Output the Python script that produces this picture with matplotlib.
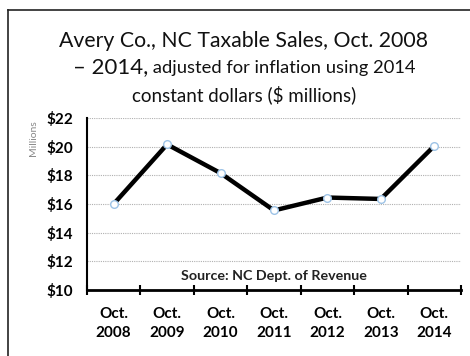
import matplotlib
matplotlib.use("Agg")
import matplotlib.pyplot as plt
from matplotlib.lines import Line2D
from matplotlib.ticker import FixedLocator, NullFormatter

plt.rcParams['font.family'] = ['Lato', 'DejaVu Sans']

# Data (millions of 2014 dollars)
categories = ["Oct.\n2008", "Oct.\n2009", "Oct.\n2010", "Oct.\n2011",
              "Oct.\n2012", "Oct.\n2013", "Oct.\n2014"]
sales = [16.0, 20.15, 18.15, 15.55, 16.45, 16.35, 20.05]
y_ticks = [10, 12, 14, 16, 18, 20, 22]
y_tick_labels = ["$10", "$12", "$14", "$16", "$18", "$20", "$22"]

fig = plt.figure(figsize=(4.70, 3.56), dpi=100)
ax = fig.add_axes([0.185, 0.185, 0.796, 0.484])

x = list(range(len(categories)))
ax.plot(x, sales, color='black', lw=3.2, solid_joinstyle='miter', zorder=3)
ax.plot(x, sales, ls='none', marker='o', ms=5.5, mfc='white', mec='#9dc3e6',
        mew=1.0, zorder=4)

ax.set_xlim(-0.5, len(categories) - 0.5)
ax.set_ylim(10, 22)
ax.set_yticks(y_ticks)
ax.set_yticklabels(y_tick_labels, fontweight='bold', fontsize=11)
ax.set_xticks(x)
ax.set_xticklabels(categories, fontweight='bold', fontsize=11, linespacing=1.5)
ax.tick_params(axis='x', which='major', length=0, pad=12)
ax.tick_params(axis='y', length=0, pad=10)
ax.xaxis.set_minor_locator(FixedLocator([i - 0.5 for i in range(len(categories) + 1)]))
ax.xaxis.set_minor_formatter(NullFormatter())
ax.tick_params(axis='x', which='minor', length=7, width=1.5, direction='inout')

ax.grid(axis='y', color='#b0b0b0', ls=(0, (1, 1)), lw=0.8)
ax.set_axisbelow(True)
for s in ('top', 'right'):
    ax.spines[s].set_visible(False)
ax.spines['left'].set_linewidth(1.5)
ax.spines['bottom'].set_linewidth(2.0)

ax.text(3.0, 10.55, "Source: NC Dept. of Revenue", ha='center', va='bottom',
        fontsize=10.3, fontweight='bold', color='#222222')

fig.text(0.071, 0.613, "Millions", rotation=90, ha='center', va='center',
         fontsize=7.5, color='#888888')

# Title, with a mixed-size second line
cx = 0.519
fig.text(cx, 1 - 47 / 356, "Avery Co., NC Taxable Sales, Oct. 2008",
         ha='center', va='baseline', fontsize=15.3, color='#111111')
fig.canvas.draw()
r = fig.canvas.get_renderer()
big = fig.text(0, 1 - 73 / 356, "– 2014,", ha='left', va='baseline',
               fontsize=16, color='#111111')
small = fig.text(0, 1 - 73 / 356, " adjusted for inflation using 2014",
                 ha='left', va='baseline', fontsize=13.2, color='#111111')
wb = big.get_window_extent(r).width
ws = small.get_window_extent(r).width
x0 = cx * 470 - (wb + ws) / 2
big.set_x(x0 / 470)
small.set_x((x0 + wb) / 470)
fig.text(cx, 1 - 101 / 356, "constant dollars ($ millions)",
         ha='center', va='baseline', fontsize=13.5, color='#111111')

# Frame lines on the left and top edges
fig.add_artist(Line2D([8 / 470, 8 / 470], [0, 1 - 10 / 356], transform=fig.transFigure,
                      color='#222222', lw=1.2))
fig.add_artist(Line2D([8 / 470, 1], [1 - 10 / 356, 1 - 10 / 356], transform=fig.transFigure,
                      color='#222222', lw=1.2))

fig.savefig("out.png", dpi=100)
